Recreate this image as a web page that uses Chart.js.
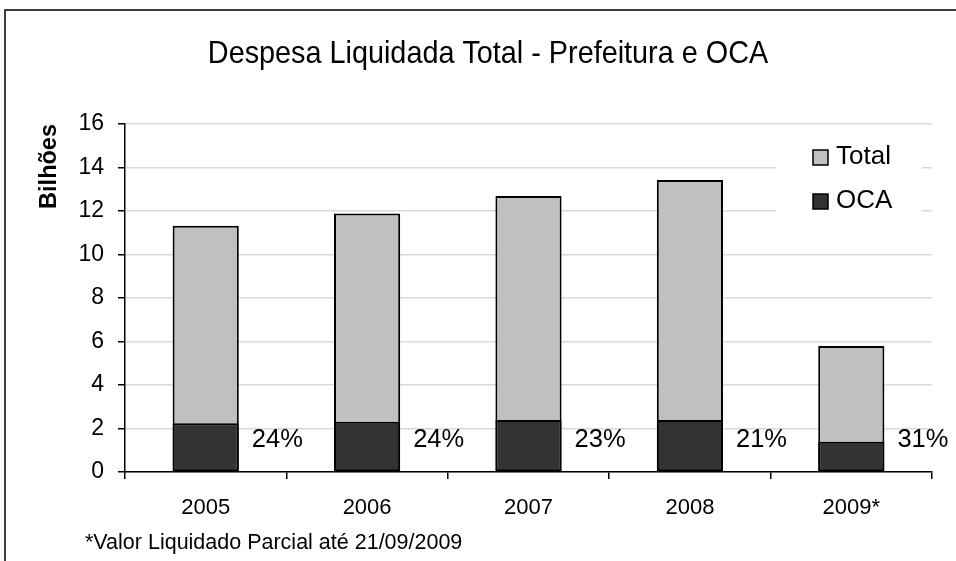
<!DOCTYPE html>
<html>
<head>
<meta charset="utf-8">
<script src="https://cdn.jsdelivr.net/npm/chart.js@4"></script>
<style>
  html, body { margin: 0; padding: 0; background: #fff; }
  #wrap { position: absolute; left: 0; top: 0; width: 956px; height: 561px; }
</style>
</head>
<body>
<div id="wrap"><canvas id="myChart" width="956" height="561"></canvas></div>
<script>
// dados (bilhoes)
const anos = ['2005', '2006', '2007', '2008', '2009*'];
const total = [11.32, 11.88, 12.69, 13.43, 5.79];
const oca = [2.24, 2.31, 2.39, 2.39, 1.39];
const percOca = ['24%', '24%', '23%', '21%', '31%'];
const yTicks = [0, 2, 4, 6, 8, 10, 12, 14, 16];
const titulo = 'Despesa Liquidada Total - Prefeitura e OCA';
const nota = '*Valor Liquidado Parcial até 21/09/2009';

const FONT = "'Liberation Sans', Arial, sans-serif";
Chart.defaults.font.family = FONT;
Chart.defaults.color = '#000';

// moldura, titulo, rotulos de %, legenda e nota de rodape
const extras = {
    id: 'extras',
    beforeDraw(chart) {
        const ctx = chart.ctx;
        ctx.save();
        ctx.fillStyle = '#fff';
        ctx.fillRect(0, 0, chart.width, chart.height);
        ctx.strokeStyle = '#000';
        ctx.lineWidth = 1.5;
        ctx.beginPath();
        ctx.moveTo(5, chart.height);
        ctx.lineTo(5, 10);
        ctx.lineTo(chart.width, 10);
        ctx.stroke();

        // titulo (fonte um pouco condensada como no original)
        ctx.fillStyle = '#000';
        ctx.font = '32px ' + FONT;
        ctx.textAlign = 'center';
        ctx.textBaseline = 'middle';
        ctx.translate(488, 54);
        ctx.scale(0.9, 1);
        ctx.fillText(titulo, 0, 0);
        ctx.restore();
    },
    afterDatasetsDraw(chart) {
        const ctx = chart.ctx;
        const y = chart.scales.y;
        const meta = chart.getDatasetMeta(1);
        ctx.save();
        ctx.fillStyle = '#000';
        ctx.font = '25.5px ' + FONT;
        ctx.textBaseline = 'middle';
        ctx.textAlign = 'left';
        meta.data.forEach((bar, i) => {
            ctx.fillText(percOca[i], bar.x + bar.width / 2 + 13, y.getPixelForValue(1.45));
        });

        // legenda
        const area = chart.chartArea;
        ctx.fillStyle = '#fff';
        ctx.fillRect(area.right - 156, area.top + 6, 146, 94);
        ctx.font = '26px ' + FONT;
        const itens = [chart.data.datasets[1], chart.data.datasets[0]];
        itens.forEach((ds, i) => {
            const cy = area.top + 33 + i * 44;
            ctx.fillStyle = ds.backgroundColor;
            ctx.fillRect(area.right - 119, cy - 7, 15, 15);
            ctx.strokeStyle = '#000';
            ctx.lineWidth = 1.5;
            ctx.strokeRect(area.right - 119, cy - 7, 15, 15);
            ctx.fillStyle = '#000';
            ctx.fillText(ds.label, area.right - 96, cy);
        });

        // nota
        ctx.font = '21.5px ' + FONT;
        ctx.fillText(nota, 85, 543);
        ctx.restore();
    }
};

let ctx = document.getElementById('myChart').getContext('2d');
let chart = new Chart(ctx, {
    type: 'bar',
    data: {
        labels: anos,
        datasets: [{
            label: 'OCA',
            data: oca,
            backgroundColor: '#333333',
            borderColor: '#000',
            borderWidth: 2,
            borderSkipped: false,
            grouped: false,
            barPercentage: 0.41,
            categoryPercentage: 1
        }, {
            label: 'Total',
            data: total,
            backgroundColor: '#c0c0c0',
            borderColor: '#000',
            borderWidth: 2,
            borderSkipped: false,
            grouped: false,
            barPercentage: 0.41,
            categoryPercentage: 1
        }]
    },
    options: {
        responsive: false,
        animation: false,
        layout: { padding: { left: 0, right: 24, top: 124, bottom: 0 } },
        plugins: {
            legend: { display: false },
            tooltip: { enabled: false },
            title: { display: false }
        },
        scales: {
            y: {
                min: 0,
                max: 16,
                afterBuildTicks: (s) => { s.ticks = yTicks.map(v => ({ value: v })); },
                afterFit: (s) => { s.width = 125; },
                ticks: { font: { size: 23 }, color: '#000', padding: 14 },
                grid: { color: '#d9d9d9', lineWidth: 1.5, tickColor: '#000', tickLength: 7 },
                border: { color: '#000', width: 1.5 },
                title: {
                    display: true,
                    text: 'Bilhões',
                    align: 'end',
                    font: { size: 23.5, weight: 'bold' },
                    color: '#000',
                    padding: { top: 35, bottom: 0 }
                }
            },
            x: {
                afterFit: (s) => { s.height = 89; },
                ticks: { font: { size: 22 }, color: '#000', padding: 16 },
                grid: { offset: true, drawOnChartArea: false, tickColor: '#000', tickLength: 7, lineWidth: 1.5 },
                border: { color: '#000', width: 1.5 }
            }
        }
    },
    plugins: [extras]
});
</script>
</body>
</html>
